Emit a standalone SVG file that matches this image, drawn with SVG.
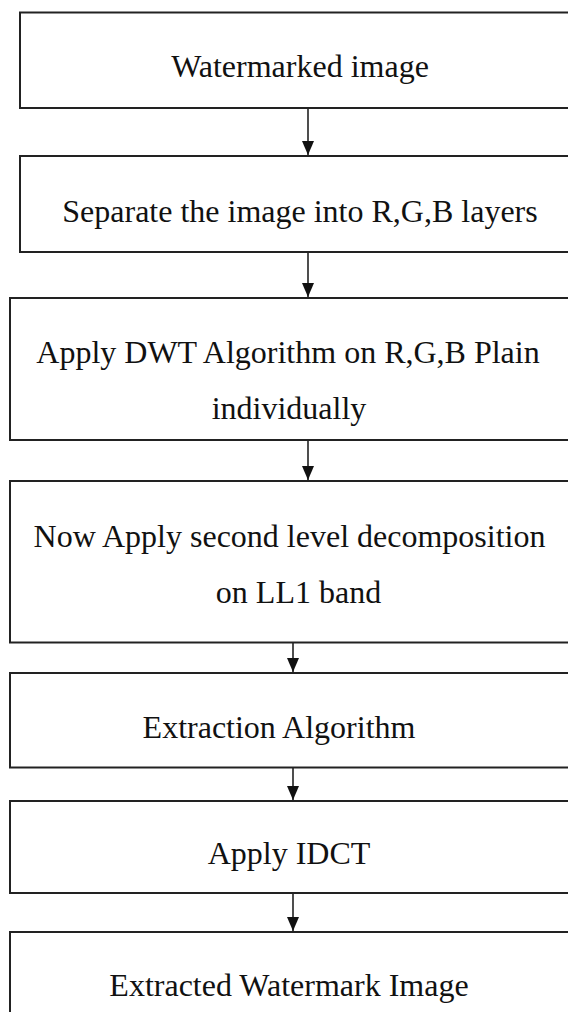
<svg xmlns="http://www.w3.org/2000/svg" width="568" height="1012" viewBox="0 0 568 1012">
<style>
.box{fill:#fff;stroke:#222;stroke-width:2}
.t{font-family:'Liberation Serif','Times New Roman','DejaVu Serif',serif;font-size:32px;fill:#111;text-anchor:middle}
.c{stroke:#222;stroke-width:1.6;fill:none}
</style>
<defs>
<marker id="ah" viewBox="0 0 14 12" refX="14" refY="6" markerWidth="14" markerHeight="12" markerUnits="userSpaceOnUse" orient="auto">
<path d="M0,0 L14,6 L0,12 Z" fill="#111"/>
</marker>
</defs>
<rect width="568" height="1012" fill="#fff"/>
<g id="connectors">
<line class="c" x1="308" y1="108" x2="308" y2="155" marker-end="url(#ah)"/>
<line class="c" x1="308" y1="252" x2="308" y2="297" marker-end="url(#ah)"/>
<line class="c" x1="308" y1="440" x2="308" y2="480" marker-end="url(#ah)"/>
<line class="c" x1="293" y1="643" x2="293" y2="672" marker-end="url(#ah)"/>
<line class="c" x1="293" y1="768" x2="293" y2="800" marker-end="url(#ah)"/>
<line class="c" x1="293" y1="893" x2="293" y2="931" marker-end="url(#ah)"/>
</g>
<g id="n1"><rect class="box" x="20" y="12.5" width="600" height="95.5"/><text class="t" x="300" y="77" font-family="Liberation Serif, serif">Watermarked image</text></g>
<g id="n2"><rect class="box" x="20" y="156" width="600" height="96"/><text class="t" x="300" y="222" font-family="Liberation Serif, serif">Separate the image into R,G,B layers</text></g>
<g id="n3"><rect class="box" x="10" y="298" width="600" height="142"/><text class="t" x="288" y="363" font-family="Liberation Serif, serif">Apply DWT Algorithm on R,G,B Plain</text><text class="t" x="289" y="419" font-family="Liberation Serif, serif">individually</text></g>
<g id="n4"><rect class="box" x="10" y="481" width="600" height="161.5"/><text class="t" x="289.5" y="547" font-family="Liberation Serif, serif">Now Apply second level decomposition</text><text class="t" x="298.5" y="603" font-family="Liberation Serif, serif">on LL1 band</text></g>
<g id="n5"><rect class="box" x="10" y="673" width="600" height="94.5"/><text class="t" x="279" y="738" font-family="Liberation Serif, serif">Extraction Algorithm</text></g>
<g id="n6"><rect class="box" x="10" y="801" width="600" height="92"/><text class="t" x="289" y="864" font-family="Liberation Serif, serif">Apply IDCT</text></g>
<g id="n7"><rect class="box" x="10" y="932" width="600" height="120"/><text class="t" x="289" y="996" font-family="Liberation Serif, serif">Extracted Watermark Image</text></g>
</svg>
